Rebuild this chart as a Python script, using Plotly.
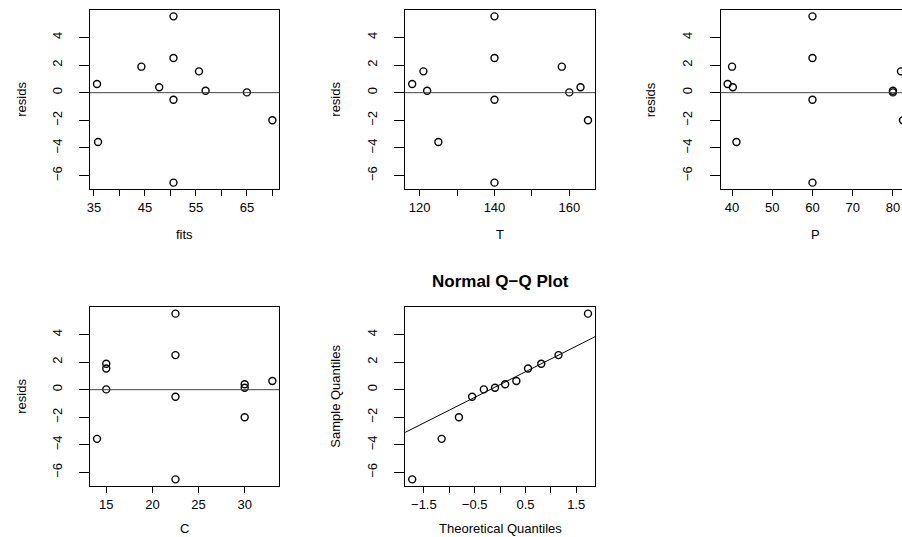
import numpy as np
import plotly.graph_objects as go

# ---- data ----
resids = [0.63, -3.57, 1.88, 0.39, 5.52, 2.51, -0.51, -6.51, 1.54, 0.14, 0.02, -2.00]
fits = [35.6, 35.8, 44.3, 47.8, 50.6, 50.6, 50.6, 50.6, 55.6, 56.9, 65.0, 70.0]
T_vals = [118, 125, 158, 163, 140, 140, 140, 140, 121, 122, 160, 165]
P_vals = [38.9, 41.1, 40.0, 40.2, 60, 60, 60, 60, 82.0, 80.0, 80.0, 82.5]
C_vals = [33, 14, 15, 30, 22.5, 22.5, 22.5, 22.5, 15, 30, 15, 30]
theo_q = [-1.73, -1.15, -0.81, -0.55, -0.32, -0.10, 0.10, 0.32, 0.55, 0.81, 1.15, 1.73]

y_ticks = [-6, -4, -2, 0, 2, 4]
fits_ticks = [35, 40, 45, 50, 55, 60, 65, 70]
fits_labels = ["35", "", "45", "", "55", "", "65", ""]
T_ticks = [120, 130, 140, 150, 160]
T_labels = ["120", "", "140", "", "160"]
P_ticks = [40, 50, 60, 70, 80]
P_labels = ["40", "50", "60", "70", "80"]
C_ticks = [15, 20, 25, 30]
C_labels = ["15", "20", "25", "30"]
Q_ticks = [-1.5, -1.0, -0.5, 0.0, 0.5, 1.0, 1.5]
Q_labels = ["\u22121.5", "", "\u22120.5", "", "0.5", "", "1.5"]

W, H = 902, 537
FONT = "Liberation Sans, Arial, Helvetica, sans-serif"
FS = 13


def rrange(v):
    lo, hi = min(v), max(v)
    d = 0.04 * (hi - lo)
    return [lo - d, hi + d]


def px_x(p):
    return p / W


def px_y(p):
    return 1 - p / H


# panel boxes in pixels
col_x = [(87.3, 277.3), (403.5, 594.0), (720.0, 910.0)]
row_y = [(9.7, 189.3), (307.0, 486.0)]

fig = go.Figure()

panels = [
    (fits, resids, fits_ticks, fits_labels, 0, 0),
    (T_vals, resids, T_ticks, T_labels, 1, 0),
    (P_vals, resids, P_ticks, P_labels, 2, 0),
    (C_vals, resids, C_ticks, C_labels, 0, 1),
    (theo_q, sorted(resids), Q_ticks, Q_labels, 1, 1),
]

yr = rrange(resids)
ytxt = [("\u2212" + str(-t)) if t < 0 else str(t) for t in y_ticks]

for i, (xv, yv, xt, xl, c, r) in enumerate(panels):
    n = i + 1
    xa = "x" if n == 1 else f"x{n}"
    ya = "y" if n == 1 else f"y{n}"
    fig.add_trace(go.Scatter(
        x=xv, y=yv, mode="markers", xaxis=xa, yaxis=ya,
        marker=dict(symbol="circle-open", size=7, color="black",
                    line=dict(width=1.4, color="black")),
        showlegend=False, hoverinfo="skip", cliponaxis=True))
    x0, x1 = col_x[c]
    y0, y1 = row_y[r]
    xr = rrange(xv)
    if x1 > W:  # right column is cut by the image edge
        frac = (W - x0) / (x1 - x0)
        xr = [xr[0], xr[0] + (xr[1] - xr[0]) * frac]
        x1 = W
    key_x = "xaxis" if n == 1 else f"xaxis{n}"
    key_y = "yaxis" if n == 1 else f"yaxis{n}"
    fig.layout[key_x] = dict(
        domain=[px_x(x0), px_x(x1)], range=xr, anchor=ya,
        showgrid=False, zeroline=False, showline=True, linecolor="black",
        linewidth=1, mirror=True, ticks="outside", ticklen=6, tickwidth=1,
        tickcolor="black", tickmode="array", tickvals=xt, ticktext=xl,
        tickfont=dict(family=FONT, size=FS, color="black"))
    fig.layout[key_y] = dict(
        domain=[px_y(y1), px_y(y0)], range=yr, anchor=xa,
        showgrid=False, zeroline=False, showline=True, linecolor="black",
        linewidth=1, mirror=(c != 2), ticks="outside", ticklen=10, tickwidth=1,
        tickcolor="black", tickmode="array", tickvals=y_ticks, ticktext=ytxt,
        tickangle=-90, ticklabelstandoff=12,
        tickfont=dict(family=FONT, size=FS, color="black"))

    if n <= 4:
        fig.add_shape(type="line", xref=f"{xa} domain", yref=ya,
                      x0=0, x1=1, y0=0, y1=0,
                      line=dict(color="#444444", width=1))

# qq line through the quartiles
q1, q3 = np.quantile(resids, [0.25, 0.75])
t1, t3 = -0.6745, 0.6745
slope = (q3 - q1) / (t3 - t1)
icpt = q1 - slope * t1
qxr = rrange(theo_q)
fig.add_trace(go.Scatter(
    x=qxr, y=[icpt + slope * qxr[0], icpt + slope * qxr[1]],
    mode="lines", xaxis="x5", yaxis="y5", line=dict(color="black", width=1),
    showlegend=False, hoverinfo="skip"))

# axis titles
xtitles = [("fits", 0, 0), ("T", 1, 0), ("P", 2, 0), ("C", 0, 1),
           ("Theoretical Quantiles", 1, 1)]
ytitles = [("resids", 0, 0), ("resids", 1, 0), ("resids", 2, 0),
           ("resids", 0, 1), ("Sample Quantiles", 1, 1)]
xt_y = [234.3, 528.5]
yt_x = [18.3, 333.3, 650.0]
annots = []
for txt, c, r in xtitles:
    cx = (col_x[c][0] + col_x[c][1]) / 2
    annots.append(dict(text=txt, x=px_x(cx), y=px_y(xt_y[r]), xref="paper",
                       yref="paper", showarrow=False, xanchor="center",
                       yanchor="middle", font=dict(family=FONT, size=FS, color="black")))
for txt, c, r in ytitles:
    cy = (row_y[r][0] + row_y[r][1]) / 2
    annots.append(dict(text=txt, x=px_x(yt_x[c]), y=px_y(cy), xref="paper",
                       yref="paper", showarrow=False, xanchor="center",
                       yanchor="middle", textangle=-90,
                       font=dict(family=FONT, size=FS, color="black")))
annots.append(dict(text="<b>Normal Q\u2212Q Plot</b>", x=px_x(499), y=px_y(281.7),
                   xref="paper", yref="paper", showarrow=False, xanchor="center",
                   yanchor="middle", font=dict(family=FONT, size=17, color="black")))

fig.update_layout(
    width=W, height=H, margin=dict(l=0, r=0, t=0, b=0),
    paper_bgcolor="white", plot_bgcolor="white", annotations=annots,
    font=dict(family=FONT, size=FS, color="black"))

fig.write_html("out.html", config={"displayModeBar": False})
